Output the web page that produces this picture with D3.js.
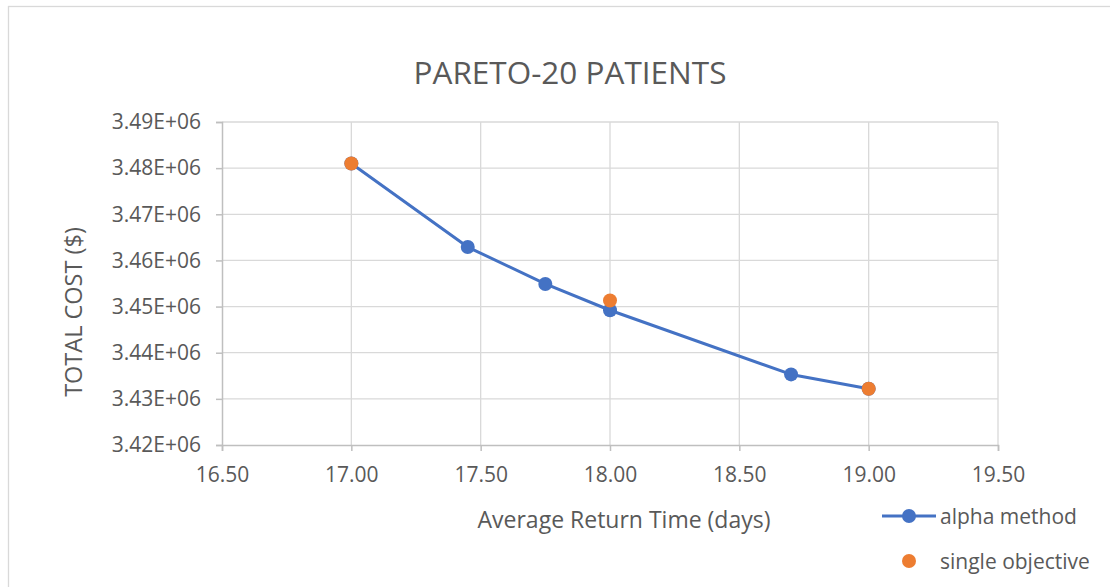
<!DOCTYPE html>
<html>
<head>
<meta charset="utf-8">
<script src="https://cdn.jsdelivr.net/npm/d3@7"></script>
<style>
  html, body { margin: 0; padding: 0; background: #fff; }
  svg { display: block; }
  text { font-family: "Open Sans", "Noto Sans", sans-serif; fill: #595959; }
</style>
</head>
<body>
<svg id="chart" width="1110" height="587"></svg>
<script>
// Average return time (days) and total cost ($) for the alpha-method front
const alphaDays = [17.00, 17.45, 17.75, 18.00, 18.70, 19.00];
const alphaCost = [3481000, 3462900, 3454900, 3449200, 3435300, 3432200];

// Single-objective solutions
const singleDays = [17.00, 18.00, 19.00];
const singleCost = [3481000, 3451300, 3432200];

const xTicks = [16.5, 17.0, 17.5, 18.0, 18.5, 19.0, 19.5];
const yTicks = [3420000, 3430000, 3440000, 3450000, 3460000, 3470000, 3480000, 3490000];

const seriesNames = ["alpha method", "single objective"];
const colors = ["#4472C4", "#ED7D31"];

const svg = d3.select("#chart");

// chart frame
svg.append("rect")
  .attr("x", 8.5).attr("y", 6.5)
  .attr("width", 1200).attr("height", 700)
  .attr("fill", "#fff").attr("stroke", "#d9d9d9").attr("stroke-width", 1.3);

const x = d3.scaleLinear().domain([16.5, 19.5]).range([222, 998]);
const y = d3.scaleLinear().domain([3420000, 3490000]).range([445, 122]);

// gridlines
svg.append("g").selectAll("line").data(xTicks.slice(1)).join("line")
  .attr("x1", d => x(d)).attr("x2", d => x(d))
  .attr("y1", y(3490000)).attr("y2", y(3420000))
  .attr("stroke", "#d9d9d9").attr("stroke-width", 1.3);
svg.append("g").selectAll("line").data(yTicks.slice(1)).join("line")
  .attr("x1", x(16.5)).attr("x2", x(19.5))
  .attr("y1", d => y(d)).attr("y2", d => y(d))
  .attr("stroke", "#d9d9d9").attr("stroke-width", 1.3);

// axes
const fmtY = d => (d / 1e6).toFixed(2) + "E+06";
const xAxis = svg.append("g")
  .attr("transform", `translate(0,${y(3420000)})`)
  .call(d3.axisBottom(x).tickValues(xTicks).tickFormat(d3.format(".2f")).tickSize(6).tickPadding(16));
const yAxis = svg.append("g")
  .attr("transform", `translate(${x(16.5)},0)`)
  .call(d3.axisLeft(y).tickValues(yTicks).tickFormat(fmtY).tickSize(6).tickPadding(15));

[xAxis, yAxis].forEach(g => {
  g.attr("font-family", null).attr("font-size", null);
  g.select(".domain").attr("stroke", "#bfbfbf").attr("stroke-width", 1.5);
  g.selectAll(".tick line").attr("stroke", "#bfbfbf").attr("stroke-width", 1.5);
  g.selectAll(".tick text").attr("fill", "#595959").style("font-size", "21px");
});

// alpha method line + markers
const line = d3.line().x(d => x(d[0])).y(d => y(d[1]));
const alphaPts = alphaDays.map((d, i) => [d, alphaCost[i]]);
const singlePts = singleDays.map((d, i) => [d, singleCost[i]]);

svg.append("path").datum(alphaPts)
  .attr("d", line).attr("fill", "none")
  .attr("stroke", colors[0]).attr("stroke-width", 3).attr("stroke-linejoin", "round");
svg.append("g").selectAll("circle").data(alphaPts).join("circle")
  .attr("cx", d => x(d[0])).attr("cy", d => y(d[1])).attr("r", 7)
  .attr("fill", colors[0]);

// single objective markers
svg.append("g").selectAll("circle").data(singlePts).join("circle")
  .attr("cx", d => x(d[0])).attr("cy", d => y(d[1])).attr("r", 7)
  .attr("fill", colors[1]);

// title
svg.append("text")
  .attr("x", 570).attr("y", 84).attr("text-anchor", "middle")
  .style("font-size", "31.5px")
  .text("PARETO-20 PATIENTS");

// axis titles
svg.append("text")
  .attr("x", 624).attr("y", 528).attr("text-anchor", "middle")
  .style("font-size", "23px")
  .text("Average Return Time (days)");
svg.append("text")
  .attr("transform", "translate(82,312) rotate(-90)")
  .attr("text-anchor", "middle")
  .style("font-size", "23.5px")
  .text("TOTAL COST ($)");

// legend
const lg = svg.append("g");
lg.append("line").attr("x1", 882).attr("x2", 936).attr("y1", 516).attr("y2", 516)
  .attr("stroke", colors[0]).attr("stroke-width", 3);
lg.append("circle").attr("cx", 909).attr("cy", 516).attr("r", 7).attr("fill", colors[0]);
lg.append("text").attr("x", 940).attr("y", 523.5).style("font-size", "21px").text(seriesNames[0]);
lg.append("circle").attr("cx", 909).attr("cy", 561).attr("r", 7).attr("fill", colors[1]);
lg.append("text").attr("x", 940).attr("y", 568.5).style("font-size", "21px").text(seriesNames[1]);
</script>
</body>
</html>
